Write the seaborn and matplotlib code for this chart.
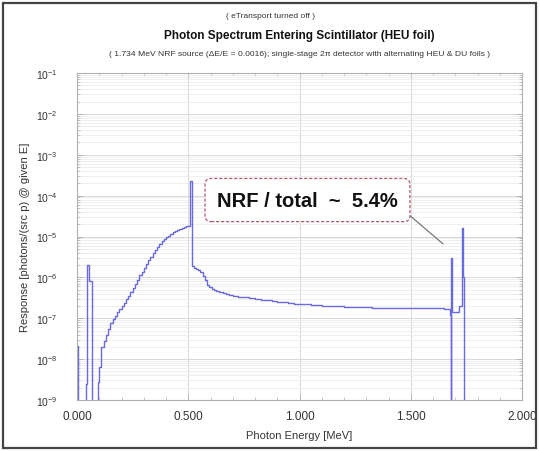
import numpy as np
import pandas as pd
import matplotlib
matplotlib.use("Agg")
import matplotlib.pyplot as plt
import matplotlib.patches as mpatches
from matplotlib.ticker import LogLocator, MultipleLocator, FixedLocator, NullFormatter
import seaborn as sns

# ---- spectrum: bin left edges [MeV] and response per bin ----
# low-energy lines and the rise towards the 511 keV region
low_lo = [0.000, 0.006, 0.040, 0.046, 0.055, 0.066,
          0.096, 0.100, 0.110, 0.120, 0.130, 0.140, 0.150, 0.160, 0.170, 0.180,
          0.190, 0.200, 0.210, 0.220, 0.230, 0.240, 0.250, 0.260, 0.270, 0.280,
          0.290, 0.300, 0.310, 0.320, 0.330, 0.340, 0.350, 0.360, 0.370, 0.380,
          0.390, 0.400, 0.410, 0.420, 0.430, 0.440, 0.450, 0.460, 0.470, 0.480,
          0.490]
low_resp = [2.1e-8, 0.0, 2.5e-9, 2.0e-6, 8.0e-7, 0.0,
            2.7e-9, 6.5e-9, 2.0e-8, 2.8e-8, 4.0e-8, 5.4e-8, 7.6e-8, 9.5e-8, 1.12e-7, 1.4e-7,
            1.66e-7, 2.0e-7, 2.4e-7, 2.9e-7, 3.6e-7, 4.5e-7, 5.5e-7, 6.9e-7, 8.7e-7, 1.12e-6,
            1.38e-6, 1.74e-6, 2.1e-6, 2.6e-6, 3.2e-6, 3.9e-6, 4.7e-6, 5.6e-6, 6.5e-6, 7.6e-6,
            8.5e-6, 9.5e-6, 1.05e-5, 1.15e-5, 1.26e-5, 1.35e-5, 1.45e-5, 1.55e-5, 1.62e-5, 1.70e-5,
            1.78e-5]

# annihilation line and the Compton continuum above it
mid_lo = [0.506, 0.515, 0.525, 0.535, 0.545, 0.555, 0.565, 0.575, 0.585, 0.595,
          0.605, 0.615, 0.625, 0.640, 0.655, 0.670, 0.685, 0.700, 0.725, 0.750,
          0.775, 0.800, 0.825, 0.850, 0.875, 0.900, 0.925, 0.950, 0.975, 1.000,
          1.025, 1.050, 1.075, 1.100, 1.125, 1.150, 1.175, 1.200, 1.225, 1.250,
          1.275, 1.300, 1.325, 1.350, 1.375, 1.400, 1.425, 1.450, 1.475, 1.500,
          1.525, 1.550, 1.575, 1.600, 1.625, 1.650]
mid_resp = [2.3e-4, 1.95e-6, 1.7e-6, 1.6e-6, 1.55e-6, 1.35e-6, 1.1e-6, 8.5e-7, 6.5e-7, 5.7e-7,
            5.3e-7, 5.0e-7, 4.7e-7, 4.45e-7, 4.2e-7, 3.95e-7, 3.8e-7, 3.6e-7, 3.4e-7, 3.25e-7,
            3.05e-7, 2.95e-7, 2.8e-7, 2.72e-7, 2.6e-7, 2.5e-7, 2.45e-7, 2.35e-7, 2.28e-7, 2.25e-7,
            2.18e-7, 2.12e-7, 2.1e-7, 2.05e-7, 2.0e-7, 1.98e-7, 1.95e-7, 1.93e-7, 1.9e-7, 1.9e-7,
            1.86e-7, 1.85e-7, 1.83e-7, 1.82e-7, 1.8e-7, 1.8e-7, 1.78e-7, 1.8e-7, 1.77e-7, 1.76e-7,
            1.78e-7, 1.75e-7, 1.76e-7, 1.74e-7, 1.75e-7, 1.73e-7]

# NRF region (1.68 MeV and 1.734 MeV lines)
nrf_lo = [1.676, 1.681, 1.683, 1.687, 1.716, 1.729, 1.732, 1.736, 1.739]
nrf_resp = [1.2e-7, 0.0, 2.9e-6, 1.4e-7, 2.0e-7, 1.35e-6, 1.65e-5, 1.0e-6, 0.0]

x_max = 2.0
x_ticks = [0.0, 0.5, 1.0, 1.5, 2.0]
x_tick_labels = ["0.000", "0.500", "1.000", "1.500", "2.000"]

top_note = "( eTransport turned off )"
title = "Photon Spectrum Entering Scintillator (HEU foil)"
subtitle = ("( 1.734 MeV NRF source (\u0394E/E = 0.0016); single-stage 2\u03c0 detector "
            "with alternating HEU & DU foils )")
x_label = "Photon Energy [MeV]"
y_label = "Response [photons/(src p) @ given E]"
ratio_note = "NRF / total  ~  5.4%"

sns.set_style("white")
plt.rcParams["font.family"] = ["Liberation Sans", "DejaVu Sans"]
plt.rcParams["mathtext.fontset"] = "custom"
plt.rcParams["mathtext.rm"] = "Liberation Sans"

W, H = 540, 452
fig = plt.figure(figsize=(W / 100, H / 100), dpi=100)
fig.patch.set_facecolor("white")
ax_l, ax_r, ax_t, ax_b = 77, 522, 74, 401
ax = fig.add_axes([ax_l / W, 1 - ax_b / H, (ax_r - ax_l) / W, (ax_b - ax_t) / H])

# step data: repeat the last value at the right end of the range
bin_lo = low_lo + mid_lo + nrf_lo
response = low_resp + mid_resp + nrf_resp
df = pd.DataFrame({"energy": bin_lo + [x_max], "resp": response + [response[-1]]})
sns.lineplot(data=df, x="energy", y="resp", ax=ax, drawstyle="steps-post",
             estimator=None, sort=False, color="#6a6ae0", linewidth=1.0)

ax.set_yscale("log", nonpositive="clip")
ax.set_xlim(0, x_max)
ax.set_ylim(1e-9, 1e-1)

ax.xaxis.set_major_locator(FixedLocator(x_ticks))
ax.set_xticklabels(x_tick_labels)
ax.xaxis.set_minor_locator(MultipleLocator(0.1))
ax.yaxis.set_major_locator(LogLocator(base=10, numticks=20))
ax.yaxis.set_minor_locator(LogLocator(base=10, subs=np.arange(2, 10), numticks=20))
ax.yaxis.set_minor_formatter(NullFormatter())

ax.grid(True, which="major", axis="both", color="#d8d8d8", linewidth=0.7)
ax.grid(True, which="minor", axis="y", color="#ececec", linewidth=0.6)
ax.set_axisbelow(True)

for s in ax.spines.values():
    s.set_color("#b0b0b0")
    s.set_linewidth(0.8)

ax.tick_params(axis="both", which="both", direction="in", color="#b0b0b0",
               top=True, right=True, bottom=True, left=True)
ax.tick_params(axis="both", which="major", length=4, width=0.6)
ax.tick_params(axis="both", which="minor", length=2, width=0.5)
ax.tick_params(axis="x", which="major", labelsize=8.5, pad=7, labelcolor="#333333")
ax.tick_params(axis="y", which="major", labelsize=7.5, pad=14, labelcolor="#333333")

ax.set_xlabel(x_label, fontsize=8, color="#333333", labelpad=6)
ax.set_ylabel(y_label, fontsize=8, color="#333333", labelpad=4)

cx = (ax_l + ax_r) / 2 / W
fig.text(0.5, 1 - 16 / H, top_note, ha="center", va="center", fontsize=6, color="#333333")
fig.text(cx, 1 - 36 / H, title, ha="center", va="center", fontsize=8.5,
         fontweight="bold", color="#111111")
fig.text(cx, 1 - 54 / H, subtitle, ha="center", va="center", fontsize=6.1, color="#333333")

# ratio callout with leader line towards the NRF lines
ax.annotate(ratio_note, xy=(1.645, 6.6e-6), xytext=(1.036, 7.8e-5),
            textcoords="data", ha="center", va="center",
            fontsize=14.5, fontweight="bold", color="#111111",
            bbox=dict(boxstyle="round,pad=0.6,rounding_size=0.3", fc="white",
                      ec="#b05a68", ls=(0, (2.5, 1.5)), lw=0.9),
            arrowprops=dict(arrowstyle="-", color="#777777", lw=0.9,
                            shrinkA=0, shrinkB=0, relpos=(1.0, 0.22)))

# outer frame of the panel
fig.patches.append(mpatches.Rectangle((3 / W, 1 - 449 / H), 533 / W, 445 / H,
                                      transform=fig.transFigure, fill=False,
                                      ec="#444444", lw=1.6))

fig.savefig("out.png", dpi=100)
